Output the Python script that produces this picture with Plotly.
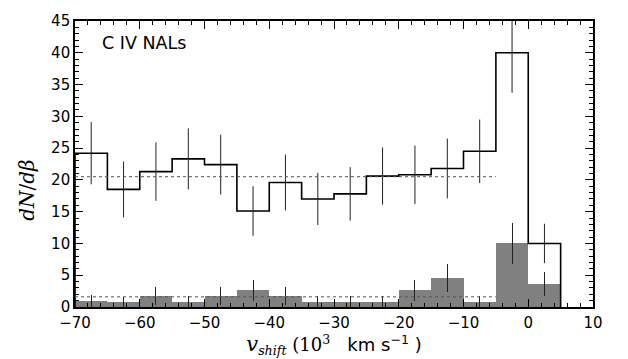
import plotly.graph_objects as go

# bin edges (10^3 km/s)
edges = [-70, -65, -60, -55, -50, -45, -40, -35, -30, -25, -20, -15, -10, -5, 0, 5]
centers = [-67.5, -62.5, -57.5, -52.5, -47.5, -42.5, -37.5, -32.5, -27.5, -22.5, -17.5, -12.5, -7.5, -2.5, 2.5]

# all C IV NALs (black step histogram)
all_vals = [24.2, 18.5, 21.3, 23.3, 22.4, 15.1, 19.6, 17.0, 17.8, 20.6, 20.8, 21.8, 24.5, 40.0, 10.0]
all_errs = [4.9, 4.4, 4.6, 4.8, 4.7, 3.9, 4.4, 4.1, 4.2, 4.5, 4.6, 4.7, 5.0, 6.3, 3.1]

# subsample (grey filled histogram)
sub_vals = [0.95, 0.8, 1.7, 0.85, 1.7, 2.6, 1.7, 0.85, 0.85, 0.85, 2.6, 4.5, 0.85, 10.0, 3.6]
sub_errs = [0.9, 0.85, 1.4, 0.9, 1.4, 1.7, 1.4, 0.9, 0.9, 0.9, 1.7, 2.2, 0.9, 3.2, 1.9]

# mean levels (dotted lines)
mean_all = 20.5
mean_sub = 1.6
mean_x = [-70, -5]

fig = go.Figure()

# grey filled histogram
fig.add_trace(go.Bar(
    x=centers, y=sub_vals, width=5,
    marker=dict(color="#808080", line=dict(width=0)),
    error_y=dict(type="data", array=sub_errs, color="#222222", thickness=1, width=0),
    showlegend=False,
))

# black step histogram outline
step_x = [edges[0]] + edges
step_y = [0] + all_vals + [all_vals[-1]]
fig.add_trace(go.Scatter(
    x=step_x + [edges[-1]], y=step_y + [0], mode="lines",
    line=dict(color="black", width=1.6, shape="hv"),
    showlegend=False, hoverinfo="skip",
))

# error bars for black histogram
fig.add_trace(go.Scatter(
    x=centers, y=all_vals, mode="markers",
    marker=dict(size=0.1, color="rgba(0,0,0,0)"),
    error_y=dict(type="data", array=all_errs, color="#222222", thickness=1, width=0),
    showlegend=False,
))

# dotted mean lines
fig.add_trace(go.Scatter(
    x=mean_x, y=[mean_all, mean_all], mode="lines",
    line=dict(color="#555555", width=1, dash="dot"), showlegend=False,
))
fig.add_trace(go.Scatter(
    x=mean_x, y=[mean_sub, mean_sub], mode="lines",
    line=dict(color="#555555", width=1, dash="dot"), showlegend=False,
))

fig.add_annotation(
    x=-66.2, y=41.6, xref="x", yref="y", text="C IV NALs", showarrow=False,
    xanchor="left", yanchor="middle",
    font=dict(family="DejaVu Sans", size=17.5, color="black"),
)

# y-axis title as rotated annotation
fig.add_annotation(
    x=-0.093, y=0.5, xref="paper", yref="paper",
    text="<i>dN</i>/<i>d\u03b2</i>", showarrow=False, textangle=-90,
    xanchor="center", yanchor="middle", yshift=-26,
    font=dict(family="DejaVu Serif", size=20, color="black"),
)

axis_common = dict(
    showline=True, linecolor="black", linewidth=1.6, mirror="allticks",
    ticks="inside", ticklen=8, tickwidth=1.2, tickcolor="black",
    showgrid=False, zeroline=False,
    tickfont=dict(family="DejaVu Sans", size=15, color="black"),
)

fig.update_xaxes(
    range=[-70, 10], tickmode="array",
    tickvals=[-70, -60, -50, -40, -30, -20, -10, 0, 10],
    ticktext=["\u221270", "\u221260", "\u221250", "\u221240", "\u221230", "\u221220", "\u221210", "0", "10"],
    minor=dict(ticks="inside", ticklen=4, tickwidth=1, tickcolor="black", dtick=2),
    ticklabelstandoff=1,
    title=dict(
        text="<span style='font-family:DejaVu Serif;font-size:21px'><i>v</i></span>"
             "<span style='font-family:DejaVu Serif'><sub><i>shift</i></sub>\u00a0(10<sup>3</sup></span>"
             "\u00a0\u00a0\u00a0km\u00a0s<sup>\u22121</sup>\u00a0)",
        font=dict(family="DejaVu Sans", size=18, color="black"), standoff=3,
    ),
    **axis_common,
)
fig.update_yaxes(
    range=[0, 45], tickmode="array",
    tickvals=[0, 5, 10, 15, 20, 25, 30, 35, 40, 45],
    minor=dict(ticks="inside", ticklen=4, tickwidth=1, tickcolor="black", dtick=1),
    **axis_common,
)

fig.update_layout(
    width=628, height=359,
    margin=dict(l=75, r=35, t=15, b=51),
    plot_bgcolor="white", paper_bgcolor="white",
    bargap=0,
)

fig.write_html("out.html")
